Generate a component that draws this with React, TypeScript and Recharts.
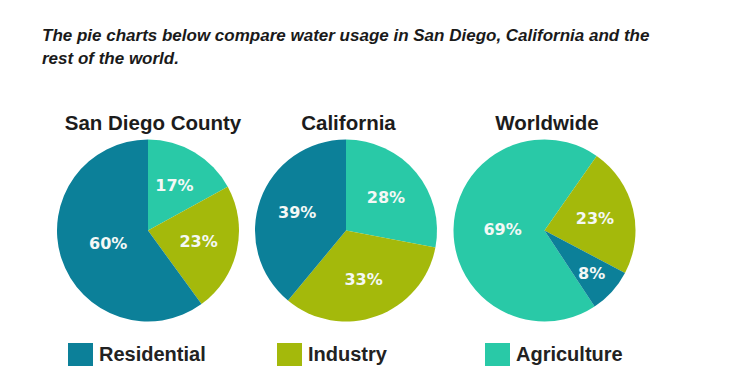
import React from 'react';
import { PieChart, Pie, Cell, Legend } from 'recharts';

const categories = ['Residential', 'Industry', 'Agriculture'];
const chartTitles = ['San Diego County', 'California', 'Worldwide'];
const sanDiegoValues = [60, 23, 17];
const californiaValues = [39, 33, 28];
const worldwideValues = [8, 23, 69];
const headingLines = [
  'The pie charts below compare water usage in San Diego, California and the',
  'rest of the world.',
];

const COLORS: Record<string, string> = {
  Residential: '#0C8099',
  Industry: '#A4B90B',
  Agriculture: '#29C9A7',
};

const drawOrder = ['Agriculture', 'Industry', 'Residential'];

const buildData = (values: number[]) =>
  drawOrder.map((name) => ({ name, value: values[categories.indexOf(name)] }));

const pies = [
  { key: 'sd', values: sanDiegoValues, cx: 148, startAngle: 90 },
  { key: 'ca', values: californiaValues, cx: 346, startAngle: 90 },
  { key: 'ww', values: worldwideValues, cx: 544.5, startAngle: -56.6 },
];
const titleX = [153, 348.5, 547];

const RAD = Math.PI / 180;
const renderLabel = (props: any) => {
  const { cx, cy, midAngle, outerRadius, percent, value } = props;
  const f = percent >= 0.5 ? 0.46 : percent < 0.1 ? 0.7 : 0.57;
  const r = outerRadius * f;
  const x = cx + r * Math.cos(-midAngle * RAD);
  const y = cy + r * Math.sin(-midAngle * RAD);
  return (
    <text
      x={x}
      y={y}
      fill="#F4F8F6"
      textAnchor="middle"
      dominantBaseline="central"
      fontFamily="DejaVu Sans, sans-serif"
      fontWeight="bold"
      fontSize={16}
    >
      {value}%
    </text>
  );
};

const legendX = [68, 277, 485];
const LegendContent = () => (
  <svg width={731} height={45} style={{ display: 'block' }}>
    {categories.map((c, i) => (
      <g key={c}>
        <rect x={legendX[i]} y={13} width={25} height={23} fill={COLORS[c]} />
        <text
          x={legendX[i] + 31}
          y={31}
          fontFamily="Liberation Sans, Arial, sans-serif"
          fontWeight="bold"
          fontSize={20}
          fill="#222"
        >
          {c}
        </text>
      </g>
    ))}
  </svg>
);

export default function App() {
  return (
    <div
      style={{
        position: 'absolute',
        left: 0,
        top: 0,
        width: 731,
        height: 385,
        background: '#fff',
        overflow: 'hidden',
      }}
    >
      <PieChart width={731} height={385} margin={{ top: 0, right: 0, bottom: 0, left: 0 }}>
        {pies.map((p) => (
          <Pie
            key={p.key}
            data={buildData(p.values)}
            dataKey="value"
            nameKey="name"
            cx={p.cx}
            cy={230.5}
            outerRadius={91}
            startAngle={p.startAngle}
            endAngle={p.startAngle - 360}
            stroke="none"
            label={renderLabel}
            labelLine={false}
            isAnimationActive={false}
          >
            {drawOrder.map((name) => (
              <Cell key={name} fill={COLORS[name]} />
            ))}
          </Pie>
        ))}
        <Legend
          content={() => <LegendContent />}
          wrapperStyle={{ position: 'absolute', left: 0, top: 330, width: 731, height: 45 }}
        />
      </PieChart>
      <svg
        width={731}
        height={385}
        style={{ position: 'absolute', left: 0, top: 0, pointerEvents: 'none' }}
      >
        {headingLines.map((line, i) => (
          <text
            key={i}
            x={42}
            y={41 + i * 23}
            fontFamily="Liberation Sans, Arial, sans-serif"
            fontWeight="bold"
            fontStyle="italic"
            fontSize={17}
            fill="#1a1a1a"
          >
            {line}
          </text>
        ))}
        {chartTitles.map((t, i) => (
          <text
            key={t}
            x={titleX[i]}
            y={130}
            textAnchor="middle"
            fontFamily="Liberation Sans, Arial, sans-serif"
            fontWeight="bold"
            fontSize={20.5}
            fill="#1c1c1c"
          >
            {t}
          </text>
        ))}
      </svg>
    </div>
  );
}
